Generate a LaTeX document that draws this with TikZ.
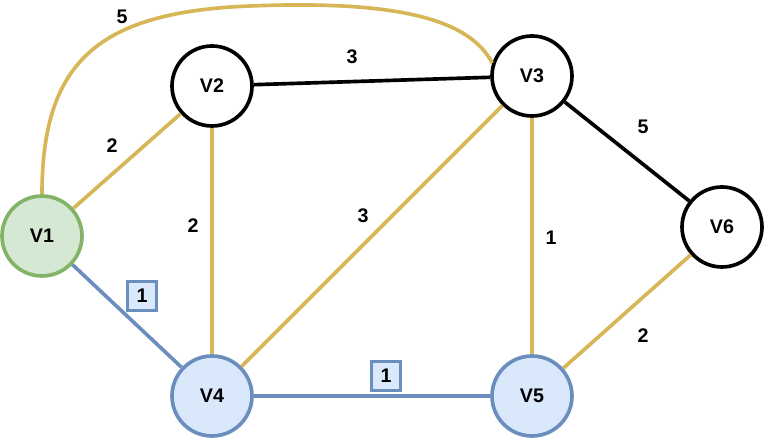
\documentclass[tikz,border=0pt]{standalone}
\usepackage{fontspec}
\setmainfont{Liberation Sans}
\usepackage{tikz}
\usetikzlibrary{calc}
\definecolor{goldline}{HTML}{D6B656}
\definecolor{blueline}{HTML}{6C8EBF}
\definecolor{bluefill}{HTML}{DAE8FC}
\definecolor{greenline}{HTML}{82B366}
\definecolor{greenfill}{HTML}{D5E8D4}
\begin{document}
\begin{tikzpicture}[scale=1.0,
  vertex/.style={circle, draw=black, line width=2.6pt, minimum size=2cm, inner sep=0pt, font=\fontsize{14}{16}\selectfont\bfseries},
  startvertex/.style={vertex, draw=greenline, fill=greenfill},
  treevertex/.style={vertex, draw=blueline, fill=bluefill},
  weight/.style={inner sep=0pt, font=\fontsize{14}{16}\selectfont\bfseries},
  treeweight/.style={weight, draw=blueline, fill=bluefill, line width=2.2pt, minimum size=0.72cm},
  goldedge/.style={goldline, line width=2.6pt},
  blackedge/.style={black, line width=2.6pt},
  blueedge/.style={blueline, line width=2.6pt}]
\useasboundingbox (0,0) rectangle (19.1,10.975);
\node[startvertex] (V1) at (1.05,5.075) {V1};
\node[vertex] (V2) at (5.3,8.825) {V2};
\node[vertex] (V3) at (13.3,9.075) {V3};
\node[treevertex] (V4) at (5.3,1.075) {V4};
\node[treevertex] (V5) at (13.3,1.075) {V5};
\node[vertex] (V6) at (18.05,5.3) {V6};
\draw[goldedge] (V1.north) .. controls (1.05,9.475) and (2.5,10.675) .. (6.25,10.825)
  .. controls (10.0,10.975) and (11.75,10.475) .. (V3.162);
\draw[goldedge] (V1) -- (V2);
\draw[blueedge] (V1) -- (V4);
\draw[goldedge] (V2) -- (V4);
\draw[blackedge] (V2) -- (V3);
\draw[goldedge] (V4) -- (V3);
\draw[goldedge] (V3) -- (V5);
\draw[blackedge] (V3) -- (V6);
\draw[goldedge] (V6) -- (V5);
\draw[blueedge] (V4) -- (V5);
\node[weight] (w13) at (3.05,10.55) {5};
\node[weight] (w23) at (8.8,9.55) {3};
\node[weight] (w12) at (2.8,7.325) {2};
\node[weight] (w24) at (4.825,5.325) {2};
\node[weight] (w34) at (9.075,5.575) {3};
\node[weight] (w36) at (16.075,7.8) {5};
\node[weight] (w35) at (13.775,5.025) {1};
\node[weight] (w56) at (16.075,2.575) {2};
\node[treeweight] (w14) at (3.55,3.575) {1};
\node[treeweight] (w45) at (9.65,1.575) {1};
\end{tikzpicture}
\end{document}
